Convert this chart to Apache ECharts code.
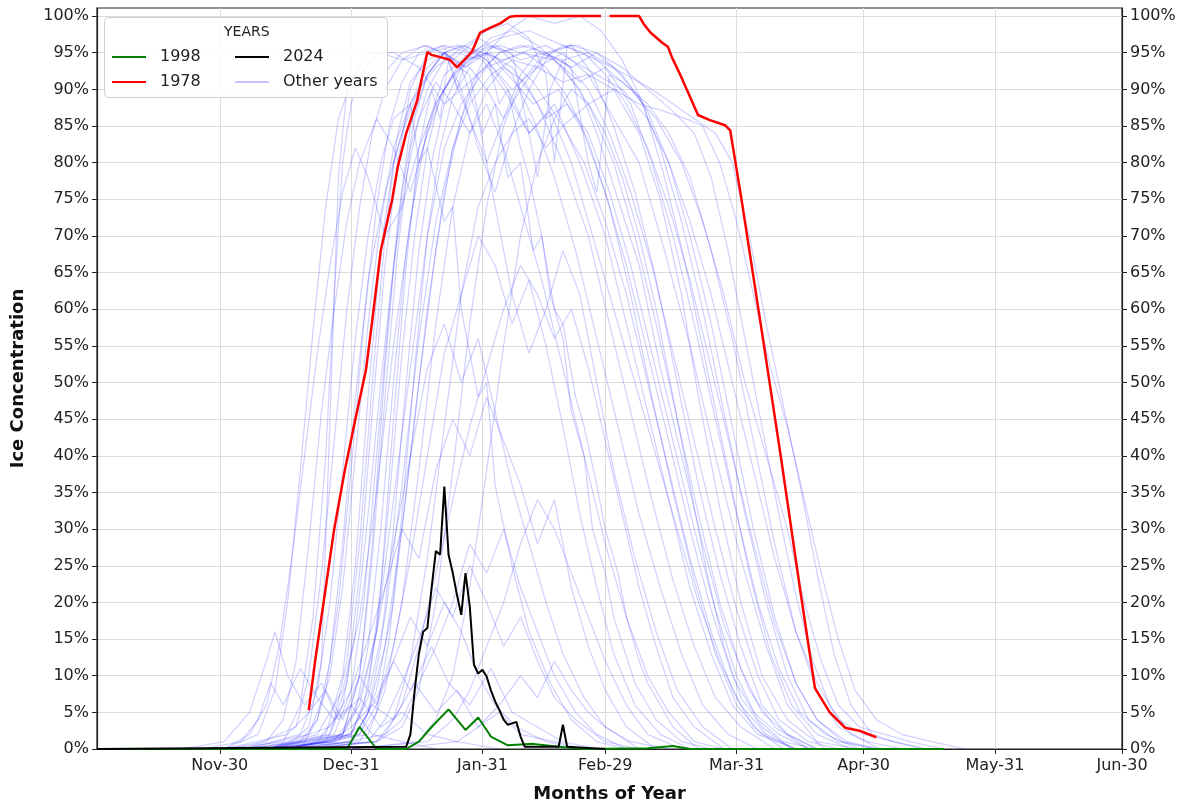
<!DOCTYPE html>
<html>
<head>
<meta charset="utf-8">
<script src="https://cdn.jsdelivr.net/npm/echarts@6/dist/echarts.min.js"></script>
<style>
  html, body { margin: 0; padding: 0; background: #fff; }
  #iceChart { width: 1184px; height: 804px; }
</style>
</head>
<body>
<div id="iceChart"></div>
<script>
// day 0 = Nov-01, Feb-29 included
const tickDays = [29, 60, 91, 120, 151, 181, 212, 242];
const tickLabels = ['Nov-30', 'Dec-31', 'Jan-31', 'Feb-29', 'Mar-31', 'Apr-30', 'May-31', 'Jun-30'];
const yTicks = [0, 5, 10, 15, 20, 25, 30, 35, 40, 45, 50, 55, 60, 65, 70, 75, 80, 85, 90, 95, 100];

const line1978 = [[50, 5.3], [51.5, 12], [54, 22], [56, 30], [58.5, 38], [61, 45], [63.5, 51.7], [65, 58.5], [67, 68],
  [69.7, 75], [71, 79.4], [73, 84], [75.6, 88.5], [78, 95.1], [79, 94.7], [81.7, 94.3], [83.4, 94], [85, 93], [86.2, 93.7],
  [88.5, 95.1], [89.7, 96.7], [90.4, 97.7], [92.8, 98.4], [95.2, 99], [97.5, 99.9], [99, 100], [119, 100], [120, null],
  [121, 100], [128, 100], [129, 99], [130.6, 97.8], [133.6, 96.3], [134.8, 95.8], [135.8, 94.3], [137.7, 92], [140, 89],
  [141.9, 86.5], [144.7, 85.8], [148.3, 85.1], [149.5, 84.4], [152, 75.6], [156.8, 57.6], [161.5, 39.7], [166, 21.8],
  [169.5, 8.3], [173, 5], [176.6, 2.9], [180, 2.5], [184, 1.6]];

const line1998 = [[0, 0], [59, 0], [62, 3], [66, 0], [73, 0], [76, 1], [79, 3], [83, 5.4], [87, 2.6], [90, 4.3], [93, 1.7],
  [97, 0.5], [103, 0.7], [109, 0.3], [115, 0], [130, 0.1], [136, 0.4], [140, 0], [200, 0]];

const line2024 = [[0, 0], [73, 0.3], [74, 2], [75, 8], [76, 13], [77, 16], [78, 16.5], [79, 22], [80, 27], [81, 26.5],
  [82, 35.8], [83, 26.5], [84, 24], [85, 21], [86, 18.3], [87, 24], [88, 19.5], [89, 11.5], [90, 10.3], [91, 10.8],
  [92, 9.9], [93, 8], [94, 6.5], [95, 5.3], [96, 4], [97, 3.3], [98, 3.5], [99, 3.7], [100, 1.7], [101, 0.3], [109, 0.3],
  [110, 3.3], [111, 0.3], [120, 0]];

const other01 = [[30,0],[44,1],[48,6],[51,18],[54,40],[56,62],[58,80],[60,88],[63,93],[67,95],[72,94],[78,95],[85,96],[92,94],[98,90],[104,93],[110,95],[116,92],[122,86],[128,80],[134,68],[140,55],[146,40],[152,26],[158,14],[163,6],[170,1],[180,0]];
const other02 = [[30,0],[38,2],[42,8],[45,20],[48,38],[51,57],[54,74],[57,86],[60,91],[64,95],[70,95],[76,93],[82,88],[88,91],[95,95],[102,96],[108,94],[114,90],[118,84],[123,75],[128,66],[133,52],[138,40],[143,28],[148,17],[154,8],[160,3],[168,0]];
const other03 = [[35,0],[46,1],[50,3],[53,12],[55,45],[57,78],[59,90],[62,93],[66,91],[72,95],[78,96],[84,94],[90,97],[96,95],[103,91],[110,85],[116,88],[122,90],[128,84],[133,75],[138,62],[142,48],[147,33],[152,20],[157,10],[163,4],[172,0]];
const other04 = [[40,0],[52,2],[58,8],[62,18],[66,35],[70,55],[74,72],[78,85],[82,92],[88,95],[95,97],[102,98],[110,96],[118,94],[125,92],[131,90],[136,88],[141,86],[146,84],[150,80],[154,70],[158,58],[162,47],[166,36],[170,24],[174,13],[178,6],[183,2],[188,1],[195,0]];
const other05 = [[40,0],[56,1],[62,6],[66,16],[70,34],[74,52],[78,70],[82,82],[86,88],[92,93],[100,95],[108,94],[114,91],[120,93],[126,90],[132,86],[138,80],[143,72],[148,62],[153,50],[158,40],[163,30],[167,20],[171,12],[175,6],[180,3],[186,2],[192,1],[200,0]];
const other06 = [[40,0],[60,2],[64,8],[67,22],[70,45],[73,66],[76,82],[79,90],[81,86],[83,94],[88,92],[91,84],[94,88],[97,78],[100,80],[103,68],[105,70],[108,60],[110,58],[113,48],[115,44],[118,36],[120,30],[123,24],[125,18],[128,12],[130,9],[136,3],[142,0]];
const other07 = [[35,0],[48,1],[52,4],[55,12],[58,28],[61,48],[64,64],[68,76],[72,84],[76,90],[80,93],[85,95],[91,94],[96,90],[102,84],[108,88],[114,80],[120,70],[125,58],[130,46],[135,34],[140,22],[145,13],[150,6],[156,2],[165,0]];
const other08 = [[50,0],[66,1],[72,3],[76,8],[80,20],[84,38],[88,58],[92,74],[96,85],[100,91],[106,95],[112,96],[118,95],[124,92],[130,87],[135,80],[140,70],[145,58],[150,44],[155,30],[160,18],[165,9],[170,4],[176,1],[184,0]];
const other09 = [[20,0],[30,1],[36,5],[40,12],[42,16],[45,10],[49,6],[53,9],[57,4],[62,7],[67,3],[72,5],[78,2],[85,1],[95,0]];
const other10 = [[30,0],[45,2],[50,5],[54,8],[58,4],[62,10],[66,6],[70,12],[74,8],[79,14],[83,9],[88,6],[93,11],[98,5],[104,3],[110,1],[118,0]];
const other11 = [[40,0],[55,3],[60,8],[64,15],[68,22],[72,30],[76,26],[80,38],[84,45],[88,40],[92,48],[96,42],[100,36],[104,28],[108,34],[112,22],[116,14],[120,8],[125,3],[132,0]];
const other12 = [[40,0],[54,2],[58,10],[61,25],[64,48],[67,68],[70,80],[74,88],[78,93],[82,95],[86,90],[90,82],[94,76],[98,84],[102,90],[107,95],[112,96],[117,92],[122,85],[127,76],[132,64],[137,50],[142,36],[147,24],[152,14],[157,6],[163,2],[170,0]];
const other13 = [[45,0],[60,1],[64,5],[68,14],[72,30],[76,50],[80,68],[84,82],[88,90],[92,95],[97,98],[102,100],[108,99],[114,100],[119,98],[124,94],[129,88],[134,78],[139,66],[144,52],[149,38],[154,24],[159,13],[164,6],[170,2],[178,0]];
const other14 = [[45,0],[62,2],[66,6],[70,14],[74,26],[78,40],[82,54],[86,62],[90,70],[94,66],[98,58],[102,64],[106,55],[110,44],[114,32],[118,22],[122,13],[127,6],[133,2],[140,0]];
const other15 = [[35,0],[48,2],[52,8],[55,20],[58,38],[61,56],[64,70],[67,80],[70,86],[74,88],[76,80],[78,82],[82,72],[84,74],[86,60],[90,48],[92,50],[94,36],[98,25],[102,16],[107,9],[112,4],[118,1],[125,0]];
const other16 = [[35,0],[47,3],[50,10],[53,24],[56,42],[59,60],[62,74],[65,84],[68,90],[72,94],[77,96],[82,95],[87,93],[92,95],[97,92],[103,88],[109,90],[115,84],[120,76],[125,66],[130,54],[135,42],[140,30],[145,19],[150,10],[155,5],[161,2],[168,0]];
const other17 = [[45,0],[62,2],[66,8],[70,20],[74,40],[78,60],[82,76],[86,86],[90,92],[95,95],[100,96],[106,95],[112,93],[116,80],[118,76],[121,92],[124,91],[130,88],[135,84],[140,78],[145,68],[150,56],[155,42],[160,28],[165,16],[170,8],[175,3],[182,1],[190,0]];
const other18 = [[50,0],[64,1],[68,4],[72,9],[76,15],[80,22],[84,18],[88,25],[92,20],[96,14],[100,18],[104,12],[108,7],[113,4],[120,1],[128,0]];
const other19 = [[40,0],[57,1],[61,5],[64,14],[67,30],[70,50],[73,68],[76,80],[80,88],[84,92],[88,86],[92,80],[96,86],[100,92],[104,95],[110,94],[116,90],[121,84],[126,76],[131,66],[136,54],[141,42],[146,30],[151,19],[156,10],[161,4],[168,1],[175,0]];
const other20 = [[60,0],[76,1],[80,4],[84,10],[88,22],[92,38],[96,55],[100,70],[104,80],[108,86],[112,90],[116,88],[120,84],[124,78],[128,70],[132,60],[136,48],[140,36],[144,24],[148,14],[152,7],[157,3],[164,0]];
const other21 = [[40,0],[55,2],[59,9],[62,24],[65,46],[68,66],[71,80],[74,90],[78,95],[82,96],[85,90],[87,94],[92,95],[95,88],[97,90],[100,82],[102,78],[105,70],[107,62],[110,56],[112,46],[115,40],[117,30],[120,24],[122,18],[127,9],[132,4],[138,1],[145,0]];
const other22 = [[45,0],[66,1],[72,4],[76,9],[80,14],[84,20],[88,28],[92,24],[96,30],[100,22],[104,16],[108,10],[113,5],[118,2],[125,0]];
const other23 = [[40,0],[52,1],[56,4],[59,12],[62,28],[65,50],[68,70],[71,84],[74,91],[78,94],[82,95],[87,93],[92,96],[98,95],[102,84],[104,78],[107,90],[110,94],[116,95],[122,93],[128,89],[133,82],[138,72],[143,60],[148,46],[153,32],[158,20],[163,10],[168,4],[175,1],[184,0]];
const other24 = [[40,0],[55,1],[60,3],[65,6],[70,4],[75,9],[80,5],[85,8],[90,3],[95,5],[100,2],[108,1],[115,0]];
const other25 = [[30,0],[40,1],[44,4],[47,12],[50,28],[53,46],[56,60],[59,72],[62,80],[66,86],[70,82],[74,76],[78,84],[82,90],[87,94],[92,95],[98,93],[104,88],[110,80],[116,70],[121,58],[126,46],[131,34],[136,23],[141,14],[146,7],[152,3],[160,0]];
const other26 = [[45,0],[58,2],[62,10],[65,26],[68,48],[71,68],[74,82],[78,90],[82,94],[87,96],[92,98],[97,99],[102,97],[106,92],[108,80],[111,96],[114,96],[120,93],[126,88],[131,80],[136,70],[141,58],[146,45],[151,32],[156,20],[161,11],[166,5],[172,2],[180,0]];
const other27 = [[40,0],[58,2],[62,7],[66,16],[70,28],[74,40],[78,52],[82,58],[86,50],[90,56],[94,46],[98,36],[102,28],[106,20],[110,13],[115,7],[120,3],[128,0]];
const other28 = [[45,0],[64,2],[68,8],[72,20],[76,38],[80,58],[84,74],[88,84],[92,90],[96,93],[101,91],[106,86],[111,88],[116,84],[121,76],[126,66],[131,54],[136,42],[141,30],[146,19],[151,10],[156,4],[162,1],[170,0]];
const other29 = [[35,0],[50,2],[54,8],[57,20],[60,38],[63,58],[66,74],[69,85],[72,91],[76,95],[82,96],[88,95],[94,96],[100,94],[106,95],[112,93],[118,95],[124,93],[130,90],[136,87],[141,84],[145,78],[149,68],[153,56],[157,44],[161,32],[165,21],[169,12],[173,6],[178,2],[185,0]];
const other30 = [[60,0],[78,1],[84,4],[88,8],[92,14],[96,20],[100,28],[104,34],[108,30],[112,24],[116,18],[120,12],[125,6],[130,2],[138,0]];
const other31 = [[35,0],[49,1],[52,4],[55,10],[58,22],[61,40],[64,58],[67,72],[70,82],[74,88],[78,92],[82,95],[87,96],[92,94],[97,90],[102,84],[107,87],[112,80],[117,70],[122,60],[127,50],[132,40],[137,30],[142,20],[147,12],[152,6],[158,2],[165,0]];
const other32 = [[40,0],[54,1],[58,6],[61,16],[64,32],[67,50],[70,66],[73,78],[76,86],[80,91],[84,88],[88,84],[92,88],[96,82],[100,74],[105,64],[110,52],[115,40],[120,28],[125,18],[130,10],[135,5],[141,1],[148,0]];
const other33 = [[25,0],[34,1],[38,4],[41,9],[44,6],[48,11],[52,7],[56,4],[60,6],[65,2],[72,1],[80,0]];
const other34 = [[40,0],[62,1],[66,5],[69,15],[72,32],[75,52],[78,70],[81,82],[84,89],[88,93],[92,90],[96,86],[100,90],[105,94],[110,96],[115,95],[120,92],[125,88],[130,82],[135,74],[140,64],[145,52],[150,40],[155,28],[160,17],[165,9],[170,4],[177,1],[185,0]];
const other35 = [[45,0],[60,2],[64,7],[68,18],[72,36],[76,56],[80,72],[84,82],[88,88],[93,92],[98,94],[104,93],[110,91],[116,92],[122,90],[128,88],[134,87],[139,86],[143,85],[147,80],[151,72],[155,62],[159,52],[163,44],[167,34],[171,24],[175,15],[179,8],[184,4],[190,2],[197,1],[205,0]];
const other36 = [[50,0],[68,2],[72,6],[76,14],[80,24],[84,34],[88,44],[92,52],[96,60],[100,66],[104,62],[108,56],[112,60],[116,52],[120,42],[124,32],[128,22],[132,14],[136,7],[141,3],[148,0]];
const other37 = [[40,0],[56,2],[60,8],[63,20],[66,40],[69,60],[72,76],[75,86],[78,92],[82,95],[86,96],[91,95],[96,94],[101,95],[106,93],[111,89],[116,83],[121,74],[126,62],[131,48],[136,35],[141,23],[146,13],[151,6],[157,2],[165,0]];
const other38 = [[40,0],[56,1],[62,3],[66,7],[70,12],[74,18],[78,14],[82,20],[86,16],[90,10],[94,6],[99,3],[106,1],[114,0]];
const other39 = [[40,0],[58,2],[62,10],[65,28],[68,52],[71,72],[74,85],[78,92],[82,95],[86,93],[90,86],[94,74],[98,62],[102,54],[106,60],[110,68],[114,62],[118,50],[122,38],[127,26],[132,16],[137,8],[143,3],[150,0]];
const other40 = [[45,0],[60,1],[64,5],[67,14],[70,30],[73,50],[76,68],[79,80],[82,88],[86,93],[90,95],[95,96],[100,95],[106,96],[112,94],[118,92],[124,90],[130,86],[135,80],[140,72],[145,62],[150,50],[155,38],[160,26],[165,16],[170,9],[175,4],[181,2],[188,1],[196,0]];
const other41 = [[30,0],[36,2],[40,6],[43,14],[46,26],[49,40],[52,54],[55,66],[58,76],[61,82],[64,78],[68,70],[72,74],[76,82],[80,88],[84,92],[88,94],[93,95],[98,92],[103,86],[108,78],[113,68],[118,56],[123,44],[128,32],[133,22],[138,13],[143,6],[149,2],[156,0]];
const other42 = [[70,0],[85,1],[90,3],[95,6],[100,10],[104,7],[108,12],[112,8],[116,5],[120,3],[126,1],[135,0]];
const other43 = [[45,0],[60,2],[63,6],[66,16],[69,34],[72,54],[75,70],[78,82],[81,89],[85,93],[89,95],[93,97],[98,98],[104,96],[110,93],[116,88],[122,80],[127,70],[132,58],[137,45],[142,32],[147,20],[152,11],[157,5],[163,2],[170,0]];
const other44 = [[50,0],[66,1],[70,4],[74,12],[78,26],[82,44],[86,62],[90,74],[94,80],[98,84],[102,86],[106,82],[110,85],[115,80],[120,72],[125,62],[130,50],[135,38],[140,26],[145,16],[150,8],[155,3],[162,0]];

const otherLines = [other01, other02, other03, other04, other05, other06, other07, other08, other09, other10,
  other11, other12, other13, other14, other15, other16, other17, other18, other19, other20,
  other21, other22, other23, other24, other25, other26, other27, other28, other29, other30,
  other31, other32, other33, other34, other35, other36, other37, other38, other39, other40,
  other41, other42, other43, other44];

const FONT = 'DejaVu Sans';
const otherColor = 'rgba(20, 20, 255, 0.2)';

var mychart = echarts.init(document.getElementById('iceChart'), null, { renderer: 'canvas' });

let series = otherLines.map(function (pts, i) {
  let s = {
    name: 'Other years',
    type: 'line',
    data: pts,
    symbol: 'none',
    silent: true,
    lineStyle: { color: otherColor, width: 1.2 },
    z: 2
  };
  if (i === 0) {
    // vertical grid lines at the month ticks
    s.markLine = {
      silent: true,
      symbol: ['none', 'none'],
      label: { show: false },
      lineStyle: { color: '#dcdcdc', width: 1, type: 'solid' },
      data: tickDays.slice(0, -1).map(function (d) { return { xAxis: d }; }),
      z: 1
    };
  }
  return s;
});

series.push({ name: '1978', type: 'line', data: line1978, symbol: 'none', connectNulls: false,
  lineStyle: { color: '#ff0000', width: 2.5 }, z: 3 });
series.push({ name: '1998', type: 'line', data: line1998, symbol: 'none',
  lineStyle: { color: '#008000', width: 2 }, z: 4 });
series.push({ name: '2024', type: 'line', data: line2024, symbol: 'none',
  lineStyle: { color: '#000000', width: 2 }, z: 5 });

const legendText = { fontFamily: FONT, fontSize: 16, color: '#222', padding: [0, 0, 0, 9] };

let option = {
  animation: false,
  backgroundColor: '#fff',
  grid: {
    left: 97, right: 62, top: 8, bottom: 55, outerBoundsMode: 'none',
    show: true, borderColor: '#222', borderWidth: 1.2, backgroundColor: 'transparent'
  },
  legend: [
    {
      orient: 'vertical', left: 106, top: 44, itemWidth: 34, itemHeight: 16, itemGap: 9, z: 20,
      textStyle: legendText, selectedMode: false, itemStyle: { opacity: 0 },
      data: ['1998', '1978']
    },
    {
      orient: 'vertical', left: 229, top: 44, itemWidth: 34, itemHeight: 16, itemGap: 9, z: 20,
      textStyle: legendText, selectedMode: false, itemStyle: { opacity: 0 },
      data: ['2024', { name: 'Other years', lineStyle: { color: 'rgba(60, 60, 255, 0.4)', width: 1.5 } }]
    }
  ],
  graphic: [
    {
      type: 'rect', left: 104, top: 17, z: 10,
      shape: { width: 283, height: 80, r: 4 },
      style: { fill: 'rgba(255,255,255,0.85)', stroke: '#cfcfcf', lineWidth: 1 }
    },
    {
      type: 'text', left: 224, top: 25, z: 11,
      style: { text: 'YEARS', fontFamily: FONT, fontSize: 14, fill: '#222' }
    }
  ],
  xAxis: {
    type: 'value', min: 0, max: 242,
    axisLine: { show: true, lineStyle: { color: '#222', width: 1.2 } },
    axisTick: { show: true, length: 5, customValues: tickDays, lineStyle: { color: '#222' } },
    axisLabel: {
      customValues: tickDays, margin: 9,
      fontFamily: FONT, fontSize: 16, color: '#222',
      formatter: function (v) {
        let k = tickDays.indexOf(Math.round(v));
        return k >= 0 ? tickLabels[k] : '';
      }
    },
    splitLine: { show: false },
    name: 'Months of Year', nameLocation: 'middle', nameGap: 36,
    nameTextStyle: { fontFamily: FONT, fontSize: 18, fontWeight: 'bold', color: '#111' }
  },
  yAxis: [
    {
      type: 'value', min: 0, max: 101.1, interval: 5, position: 'left',
      axisLine: { show: true, lineStyle: { color: '#222', width: 1.2 } },
      axisTick: { show: true, length: 5, customValues: yTicks, lineStyle: { color: '#222' } },
      axisLabel: { customValues: yTicks, margin: 8, fontFamily: FONT, fontSize: 16, color: '#222',
        formatter: function (v) { return v + '%'; } },
      splitLine: { show: true, lineStyle: { color: '#dcdcdc', width: 1 } },
      name: 'Ice Concentration', nameLocation: 'middle', nameGap: 70,
      nameTextStyle: { fontFamily: FONT, fontSize: 18, fontWeight: 'bold', color: '#111' }
    },
    {
      type: 'value', min: 0, max: 101.1, interval: 5, position: 'right',
      axisLine: { show: true, lineStyle: { color: '#222', width: 1.2 } },
      axisTick: { show: true, length: 5, customValues: yTicks, lineStyle: { color: '#222' } },
      axisLabel: { customValues: yTicks, margin: 8, fontFamily: FONT, fontSize: 16, color: '#222',
        formatter: function (v) { return v + '%'; } },
      splitLine: { show: false }
    }
  ],
  series: series
};

mychart.setOption(option);
</script>
</body>
</html>
